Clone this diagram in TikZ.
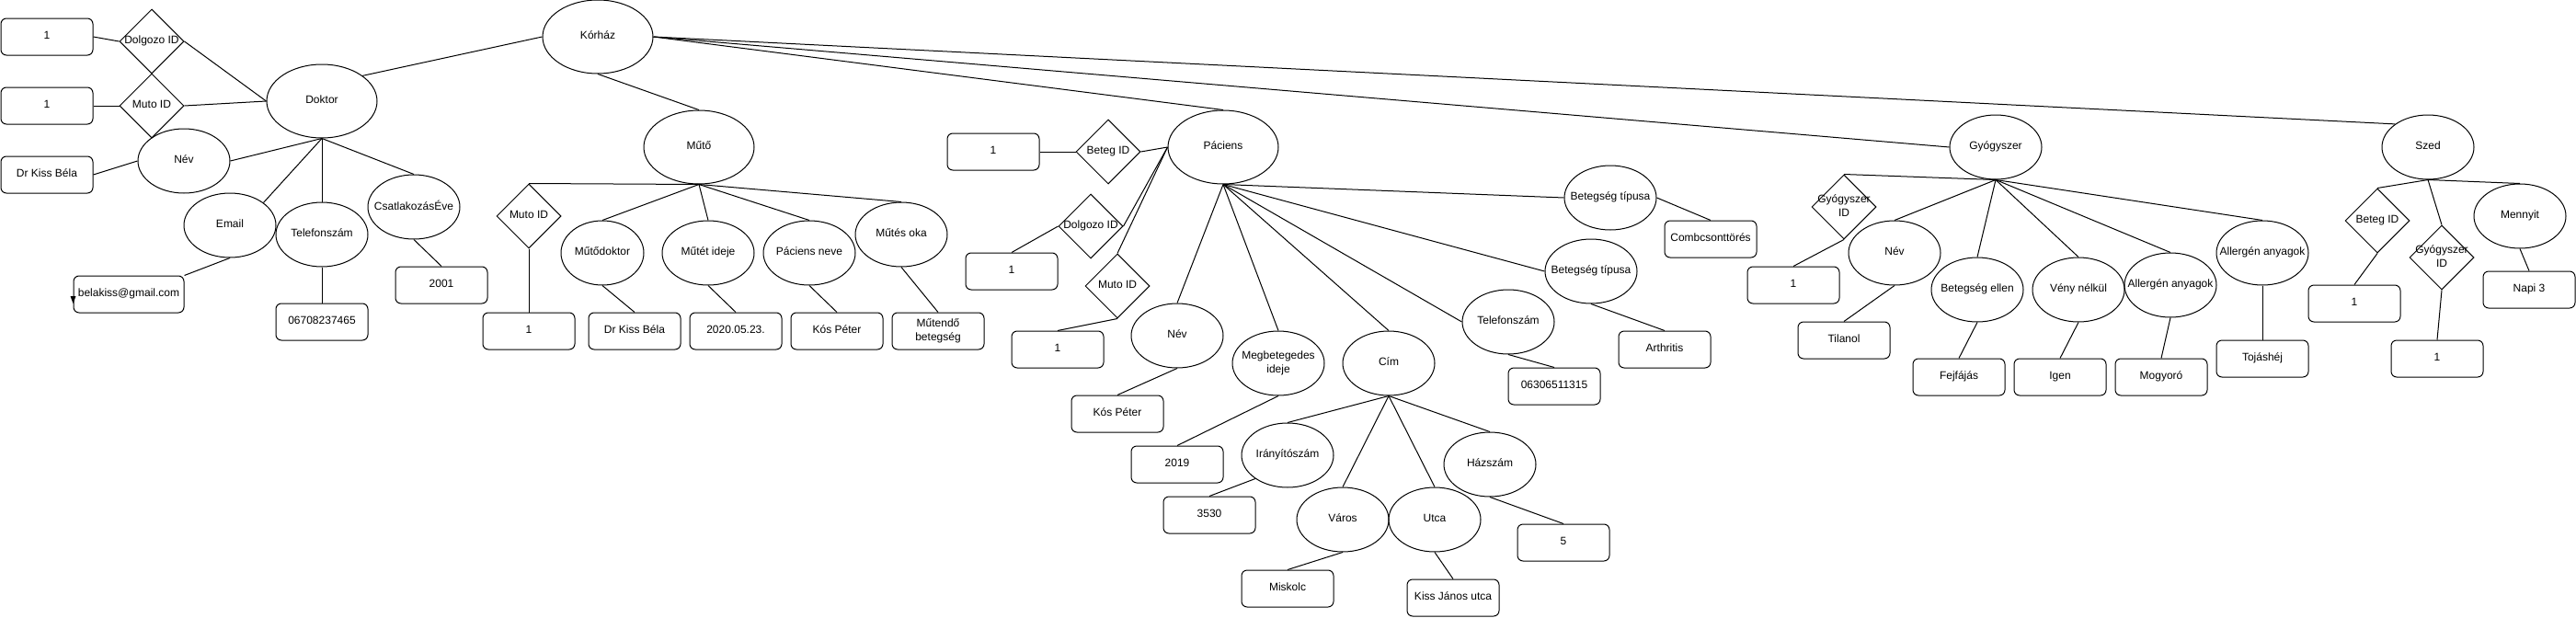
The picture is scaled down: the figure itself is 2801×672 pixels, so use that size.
\documentclass[tikz,border=0pt]{standalone}
\usepackage{fontspec}
\setmainfont{Liberation Sans}
\usetikzlibrary{shapes.geometric}

% text ohne eigene breite, die form bestimmt die groesse
\newcommand{\mitte}[1]{\makebox[0pt]{\begin{tabular}{@{}c@{}}#1\end{tabular}}}

\begin{document}
\begin{tikzpicture}[x=1pt, y=-1pt, line width=1pt,
	every node/.style={font=\fontsize{12}{14.4}\selectfont, inner sep=0pt},
	attr/.style={draw, ellipse, minimum width=100pt, minimum height=70pt},
	haupt/.style={attr, minimum width=120pt, minimum height=80pt},
	wert/.style={draw, rectangle, rounded corners=6pt, minimum width=100pt, minimum height=40pt},
	kulcs/.style={draw, diamond, minimum width=70pt, minimum height=70pt}]
	\useasboundingbox (0,0) rectangle (2801,672);
	\fill[white] (0,0) rectangle (2801,672);
	% linker bereich, doktor
	\node[haupt] (doktor) at (350,110) {\mitte{Doktor}};
	\node[wert] (d1a) at (51,40) {\mitte{1}};
	\node[kulcs] (ddolg) at (165,45) {\mitte{Dolgozo ID}};
	\node[wert] (d1b) at (51,115) {\mitte{1}};
	\node[kulcs] (dmuto) at (165,115) {\mitte{Muto ID}};
	\node[wert] (dnevw) at (51,190) {\mitte{Dr Kiss Béla}};
	\node[attr] (dnev) at (200,175) {\mitte{Név}};
	\node[attr] (demail) at (250,245) {\mitte{Email}};
	\node[attr] (dtel) at (350,255) {\mitte{Telefonszám}};
	\node[attr] (dcsat) at (450,225) {\mitte{CsatlakozásÉve}};
	\node[wert, minimum width=120pt] (demailw) at (140,320) {\mitte{belakiss@gmail.com}};
	\node[wert] (dtelw) at (350,350) {\mitte{06708237465}};
	\node[wert] (dcsatw) at (480,310) {\mitte{2001}};
	\draw (d1a.east) -- (ddolg.west);
	\draw (d1b.east) -- (dmuto.west);
	\draw (ddolg.east) -- (doktor.west);
	\draw (dmuto.east) -- (doktor.west);
	\draw (dnevw.east) -- (dnev.west);
	\draw (dnev.east) -- (doktor.south);
	\draw (demail.34) -- (doktor.south);
	\draw (dtel.north) -- (doktor.south);
	\draw (dcsat.north) -- (doktor.south);
	\draw (demail.south) -- (demailw.north east);
	\draw (dtel.south) -- (dtelw.north);
	\draw (dcsat.south) -- (dcsatw.north);
	\fill (demailw.west) ++(-3,2) -- ++(6,0) -- ++(-3,8) -- cycle;
	% korhaz
	\node[haupt] (korhaz) at (650,40) {\mitte{Kórház}};
	\draw (doktor.32) -- (korhaz.west);
	% mutő
	\node[haupt] (muto) at (760,160) {\mitte{Műtő}};
	\node[kulcs] (mmuto) at (575,235) {\mitte{Muto ID}};
	\node[wert] (mmutow) at (575,360) {\mitte{1}};
	\node[attr, minimum width=90pt] (mdok) at (655,275) {\mitte{Műtődoktor}};
	\node[wert] (mdokw) at (690,360) {\mitte{Dr Kiss Béla}};
	\node[attr] (mido) at (770,275) {\mitte{Műtét ideje}};
	\node[wert] (midow) at (800,360) {\mitte{2020.05.23.}};
	\node[attr] (mpac) at (880,275) {\mitte{Páciens neve}};
	\node[wert] (mpacw) at (910,360) {\mitte{Kós Péter}};
	\node[attr] (mok) at (980,255) {\mitte{Műtés oka}};
	\node[wert] (mokw) at (1020,360) {\mitte{Műtendő\\betegség}};
	\draw (korhaz.south) -- (muto.north);
	\draw (muto.south) -- (mmuto.north);
	\draw (mmuto.south) -- (mmutow.north);
	\draw (muto.south) -- (mdok.north);
	\draw (muto.south) -- (mido.north);
	\draw (muto.south) -- (mpac.north);
	\draw (muto.south) -- (mok.north);
	\draw (mdok.south) -- (mdokw.north);
	\draw (mido.south) -- (midow.north);
	\draw (mpac.south) -- (mpacw.north);
	\draw (mok.south) -- (mokw.north);
	% paciens
	\node[haupt] (paciens) at (1330,160) {\mitte{Páciens}};
	\node[kulcs] (pbeteg) at (1205,165) {\mitte{Beteg ID}};
	\node[wert] (pbetegw) at (1080,165) {\mitte{1}};
	\node[kulcs] (pdolg) at (1186,246) {\mitte{Dolgozo ID}};
	\node[wert] (pdolgw) at (1100,295) {\mitte{1}};
	\node[kulcs] (pmuto) at (1215,311) {\mitte{Muto ID}};
	\node[wert] (pmutow) at (1150,380) {\mitte{1}};
	\node[attr] (pnev) at (1280,365) {\mitte{Név}};
	\node[wert] (pnevw) at (1215,450) {\mitte{Kós Péter}};
	\node[attr] (pmeg) at (1390,395) {\mitte{Megbetegedes\\ideje}};
	\node[wert] (pmegw) at (1280,505) {\mitte{2019}};
	\node[attr] (pcim) at (1510,395) {\mitte{Cím}};
	\node[attr] (pirsz) at (1400,495) {\mitte{Irányítószám}};
	\node[wert] (pirszw) at (1315,560) {\mitte{3530}};
	\node[attr] (pvaros) at (1460,565) {\mitte{Város}};
	\node[wert] (pvarosw) at (1400,640) {\mitte{Miskolc}};
	\node[attr] (putca) at (1560,565) {\mitte{Utca}};
	\node[wert] (putcaw) at (1580,650) {\mitte{Kiss János utca}};
	\node[attr] (phaz) at (1620,505) {\mitte{Házszám}};
	\node[wert] (phazw) at (1700,590) {\mitte{5}};
	\node[attr] (ptel) at (1640,350) {\mitte{Telefonszám}};
	\node[wert] (ptelw) at (1690,420) {\mitte{06306511315}};
	\node[attr] (pbt2) at (1730,295) {\mitte{Betegség típusa}};
	\node[wert] (pbt2w) at (1810,380) {\mitte{Arthritis}};
	\node[attr] (pbt1) at (1751,215) {\mitte{Betegség típusa}};
	\node[wert] (pbt1w) at (1860,260) {\mitte{Combcsonttörés}};
	\draw (korhaz.east) -- (paciens.north);
	\draw (pbetegw.east) -- (pbeteg.west);
	\draw (pbeteg.east) -- (paciens.west);
	\draw (pdolg.east) -- (paciens.west);
	\draw (pdolg.west) -- (pdolgw.north);
	\draw (pmuto.north) -- (paciens.west);
	\draw (pmuto.south) -- (pmutow.north);
	\draw (pnev.north) -- (paciens.south);
	\draw (pnev.south) -- (pnevw.north);
	\draw (pmeg.north) -- (paciens.south);
	\draw (pmeg.south) -- (pmegw.north);
	\draw (pcim.north) -- (paciens.south);
	\draw (ptel.west) -- (paciens.south);
	\draw (pbt2.west) -- (paciens.south);
	\draw (pbt1.west) -- (paciens.south);
	% cim
	\draw (pcim.south) -- (pirsz.north);
	\draw (pcim.south) -- (pvaros.north);
	\draw (pcim.south) -- (putca.north);
	\draw (pcim.south) -- (phaz.north);
	\draw (pirsz.216) -- (pirszw.north);
	\draw (pvaros.south) -- (pvarosw.north);
	\draw (putca.south) -- (putcaw.north);
	\draw (phaz.south) -- (phazw.north);
	\draw (ptel.south) -- (ptelw.north);
	\draw (pbt2.south) -- (pbt2w.north);
	\draw (pbt1.east) -- (pbt1w.north);
	% gyogyszer
	\node[attr] (gyogy) at (2170,160) {\mitte{Gyógyszer}};
	\node[kulcs] (gid) at (2005,225) {\mitte{Gyógyszer\\ID}};
	\node[wert] (gidw) at (1950,310) {\mitte{1}};
	\node[attr] (gnev) at (2060,275) {\mitte{Név}};
	\node[wert] (gnevw) at (2005,370) {\mitte{Tilanol}};
	\node[attr] (gell) at (2150,315) {\mitte{Betegség ellen}};
	\node[wert] (gellw) at (2130,410) {\mitte{Fejfájás}};
	\node[attr] (gveny) at (2260,315) {\mitte{Vény nélkül}};
	\node[wert] (gvenyw) at (2240,410) {\mitte{Igen}};
	\node[attr] (gall1) at (2360,310) {\mitte{Allergén anyagok}};
	\node[wert] (gall1w) at (2350,410) {\mitte{Mogyoró}};
	\node[attr] (gall2) at (2460,275) {\mitte{Allergén anyagok}};
	\node[wert] (gall2w) at (2460,390) {\mitte{Tojáshéj}};
	\draw (korhaz.east) -- (gyogy.west);
	\draw (gyogy.south) -- (gid.north);
	\draw (gyogy.south) -- (gnev.north);
	\draw (gyogy.south) -- (gell.north);
	\draw (gyogy.south) -- (gveny.north);
	\draw (gyogy.south) -- (gall1.north);
	\draw (gyogy.south) -- (gall2.north);
	\draw (gid.south) -- (gidw.north);
	\draw (gnev.south) -- (gnevw.north);
	\draw (gell.south) -- (gellw.north);
	\draw (gveny.south) -- (gvenyw.north);
	\draw (gall1.south) -- (gall1w.north);
	\draw (gall2.south) -- (gall2w.north);
	% szed
	\node[attr] (szed) at (2640,160) {\mitte{Szed}};
	\node[kulcs] (sbeteg) at (2585,240) {\mitte{Beteg ID}};
	\node[wert] (sbetegw) at (2560,330) {\mitte{1}};
	\node[kulcs] (sgid) at (2655,280) {\mitte{Gyógyszer\\ID}};
	\node[wert] (sgidw) at (2650,390) {\mitte{1}};
	\node[attr] (smenny) at (2740,235) {\mitte{Mennyit}};
	\node[wert] (smennyw) at (2750,315) {\mitte{Napi 3}};
	\draw (korhaz.east) -- (szed.north west);
	\draw (szed.south) -- (sbeteg.north);
	\draw (szed.south) -- (sgid.north);
	\draw (szed.south) -- (smenny.north);
	\draw (sbeteg.south) -- (sbetegw.north);
	\draw (sgid.south) -- (sgidw.north);
	\draw (smenny.south) -- (smennyw.north);
\end{tikzpicture}
\end{document}
